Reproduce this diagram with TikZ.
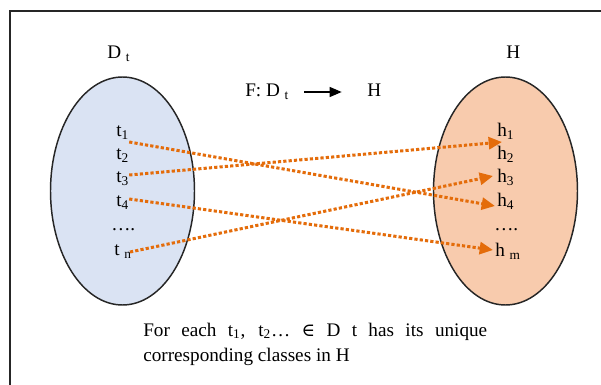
\documentclass[tikz,border=0pt]{standalone}
\usepackage{fontspec}
\setmainfont{Liberation Serif}
\newfontfamily\elemfont[Scale=0.95]{DejaVu Serif}
\usetikzlibrary{shapes.geometric,arrows.meta}
\definecolor{setblue}{HTML}{DAE3F3}
\definecolor{setorange}{HTML}{F8CBAD}
\definecolor{maporange}{HTML}{E46C0A}
\begin{document}
\begin{tikzpicture}[x=0.75pt,y=-0.75pt,
  lbl/.style={inner sep=0pt, anchor=base west, font=\fontsize{14.4}{19.5}\selectfont},
  setshape/.style={ellipse, draw=black!85, line width=1.1pt, inner sep=0pt,
    minimum width=108pt, minimum height=171pt},
  maparrow/.style={maporange, line width=2.25pt, dash pattern=on 2.4pt off 1.6pt,
    -{Triangle[length=10pt,width=9pt]}},
  funarrow/.style={black, line width=1pt, -{Triangle[length=9pt,width=7.5pt]}}
]
\useasboundingbox (0,0) rectangle (601,385);
\draw[line width=1.1pt, black!85] (10,392) -- (10,11) -- (608,11);

\node[setshape, fill=setblue] (Dset) at (122.5,191) {};
\node[setshape, fill=setorange] (Hset) at (505.5,191) {};

\node[lbl] (Dtitle) at (107,59) {D \textsubscript{t}};
\node[lbl] (Htitle) at (506,59) {H};

\node[lbl] (Fmap) at (245,97) {F: D \textsubscript{t}};
\node[lbl] (Fcod) at (367,97) {H};
\draw[funarrow] ([xshift=11]Fmap.base east |- 0,92) -- ([xshift=-19]Fcod.base west |- 0,92);

\node[lbl] (t1) at (116,137) {t\textsubscript{1}};
\node[lbl] (t2) at (116,160) {t\textsubscript{2}};
\node[lbl] (t3) at (116,183) {t\textsubscript{3}};
\node[lbl] (t4) at (116,207) {t\textsubscript{4}};
\node[lbl] (tdots) at (111,231) {\ldots.};
\node[lbl] (tn) at (114,256) {t \textsubscript{n}};

\node[lbl] (h1) at (497,137) {h\textsubscript{1}};
\node[lbl] (h2) at (497,160) {h\textsubscript{2}};
\node[lbl] (h3) at (497,183) {h\textsubscript{3}};
\node[lbl] (h4) at (497,207) {h\textsubscript{4}};
\node[lbl] (hdots) at (494,231) {\ldots.};
\node[lbl] (hm) at (495,257) {h \textsubscript{m}};

\draw[maparrow] ([shift={(0,5)}]t1.base east) -- ([shift={(-2,-1)}]h4.base west);
\draw[maparrow] ([shift={(0,-8)}]t3.base east) -- ([shift={(5,5)}]h1.base west);
\draw[maparrow] ([shift={(0,-8)}]t4.base east) -- ([shift={(-2,-7)}]hm.base west);
\draw[maparrow] ([shift={(-2,-4)}]tn.base east) -- ([shift={(-4,-7)}]h3.base west);

\node[lbl] (cap1) at (143,336) {\makebox[258pt][s]{For each t\textsubscript{1}, t\textsubscript{2}\ldots{} {\elemfont ∈} D t has its unique}};
\node[lbl] (cap2) at (143,361) {corresponding classes in H};
\end{tikzpicture}
\end{document}
